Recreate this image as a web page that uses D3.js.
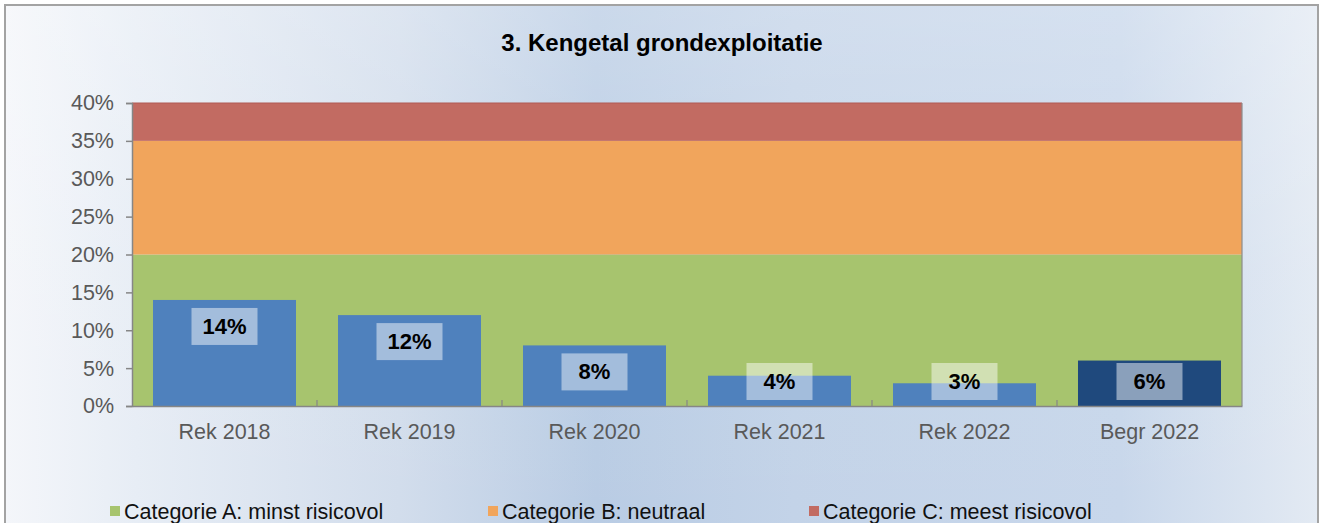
<!DOCTYPE html>
<html>
<head>
<meta charset="utf-8">
<script src="https://cdn.jsdelivr.net/npm/d3@7/dist/d3.min.js"></script>
<style>
  html, body { margin: 0; padding: 0; background: #ffffff; }
  svg { display: block; font-family: "Liberation Sans", Arial, sans-serif; }
</style>
</head>
<body>
<svg id="chart" width="1325" height="523"></svg>
<script>
// Kengetal grondexploitatie per jaar (in %)
const categories = ["Rek 2018", "Rek 2019", "Rek 2020", "Rek 2021", "Rek 2022", "Begr 2022"];
const values = [14, 12, 8, 4, 3, 6];
// Risk bands: bounds of each category
const bandNames = ["Categorie A: minst risicovol", "Categorie B: neutraal", "Categorie C: meest risicovol"];
const bandBounds = [0, 20, 35, 40];
const yTicks = [0, 5, 10, 15, 20, 25, 30, 35, 40];

const bandColors = ["#a7c46e", "#f1a55c", "#c26b62"];
const barColor = "#4f81bd";
const budgetColor = "#1f497d";

const svg = d3.select("#chart");
const defs = svg.append("defs");

// Panel background: soft blue gradient
const g1 = defs.append("linearGradient").attr("id", "bgH").attr("x1", "0").attr("x2", "1").attr("y1", "0").attr("y2", "0");
[["0%", "#f4f6fa"], ["10%", "#e7edf5"], ["30%", "#d2ddec"], ["45%", "#b9cce4"], ["60%", "#c3d3e8"],
 ["85%", "#c8d7eb"], ["100%", "#e3eaf3"]].forEach(s =>
  g1.append("stop").attr("offset", s[0]).attr("stop-color", s[1]));
const g2 = defs.append("linearGradient").attr("id", "bgV").attr("x1", "0").attr("x2", "0").attr("y1", "0").attr("y2", "1");
g2.append("stop").attr("offset", "0%").attr("stop-color", "#ffffff").attr("stop-opacity", 0.25);
g2.append("stop").attr("offset", "50%").attr("stop-color", "#ffffff").attr("stop-opacity", 0.05);
g2.append("stop").attr("offset", "100%").attr("stop-color", "#ffffff").attr("stop-opacity", 0.0);

svg.append("rect").attr("x", 5).attr("y", 5).attr("width", 1313).attr("height", 530)
  .attr("fill", "url(#bgH)");
svg.append("rect").attr("x", 5).attr("y", 5).attr("width", 1313).attr("height", 530)
  .attr("fill", "url(#bgV)");
svg.append("rect").attr("x", 5).attr("y", 5).attr("width", 1313).attr("height", 530)
  .attr("fill", "none").attr("stroke", "#a3a3a3").attr("stroke-width", 2);

// Title
svg.append("text").attr("x", 662).attr("y", 51).attr("text-anchor", "middle")
  .attr("font-size", 24).attr("font-weight", "bold").attr("fill", "#000")
  .text("3. Kengetal grondexploitatie");

const plot = { left: 132, right: 1242, top: 103, bottom: 406 };

const x = d3.scaleBand().domain(categories).range([plot.left, plot.right]).paddingInner(0.227).paddingOuter(0.1135);
const xOuter = d3.scaleBand().domain(categories).range([plot.left, plot.right]).padding(0);
const y = d3.scaleLinear().domain([0, 40]).range([plot.bottom, plot.top]);

// Risk bands across the full plot width
const bands = bandNames.map((n, i) => ({ name: n, lo: bandBounds[i], hi: bandBounds[i + 1], color: bandColors[i] }));
svg.append("g").selectAll("rect").data(bands).join("rect")
  .attr("x", plot.left).attr("width", plot.right - plot.left)
  .attr("y", d => y(d.hi)).attr("height", d => y(d.lo) - y(d.hi))
  .attr("fill", d => d.color);
svg.append("line").attr("x1", plot.left).attr("x2", plot.right).attr("y1", y(40)).attr("y2", y(40))
  .attr("stroke", "#b05a55").attr("stroke-width", 1.2);
svg.append("line").attr("x1", plot.right).attr("x2", plot.right).attr("y1", y(40)).attr("y2", y(0))
  .attr("stroke", "#8c8c8c").attr("stroke-width", 1.2);

// Bars
svg.append("g").selectAll("rect").data(categories).join("rect")
  .attr("x", d => x(d)).attr("width", x.bandwidth())
  .attr("y", (d, i) => y(values[i])).attr("height", (d, i) => y(0) - y(values[i]))
  .attr("fill", (d, i) => i === categories.length - 1 ? budgetColor : barColor);

// Value labels with translucent boxes
const fmt = v => d3.format(".0f")(v) + "%";
const labels = svg.append("g").selectAll("g").data(categories).join("g")
  .attr("transform", (d, i) => `translate(${x(d) + x.bandwidth() / 2},${Math.min(y(values[i]) + 26, y(0) - 25)})`);
labels.append("rect").attr("x", -33).attr("y", -18).attr("width", 66).attr("height", 37)
  .attr("fill", "#ffffff").attr("fill-opacity", 0.48);
labels.append("text").attr("text-anchor", "middle").attr("dy", "0.36em")
  .attr("font-size", 22).attr("font-weight", "bold").attr("fill", "#000")
  .text((d, i) => fmt(values[i]));

// Y axis
const yAxis = d3.axisLeft(y).tickValues(yTicks).tickSize(6).tickPadding(12).tickFormat(d => d + "%");
const ya = svg.append("g").attr("transform", `translate(${plot.left},0)`).call(yAxis);
ya.select(".domain").attr("stroke", "#868686").attr("stroke-width", 1.5);
ya.selectAll(".tick line").attr("stroke", "#868686").attr("stroke-width", 1.5);
ya.selectAll(".tick text").attr("font-size", 21.5).attr("fill", "#595959").attr("font-family", "Liberation Sans, Arial, sans-serif");

// X axis
const xAxis = d3.axisBottom(x).tickSize(0).tickPadding(18);
const xa = svg.append("g").attr("transform", `translate(0,${plot.bottom})`).call(xAxis);
xa.select(".domain").attr("stroke", "#868686").attr("stroke-width", 1.5);
xa.selectAll(".tick text").attr("font-size", 21.5).attr("fill", "#595959").attr("font-family", "Liberation Sans, Arial, sans-serif");
// category separators (inside tick marks)
svg.append("g").selectAll("line").data(categories.slice(1)).join("line")
  .attr("x1", d => xOuter(d)).attr("x2", d => xOuter(d))
  .attr("y1", plot.bottom - 6).attr("y2", plot.bottom)
  .attr("stroke", "#868686").attr("stroke-width", 1.2);

// Legend
const legendX = [110, 488, 809];
const lg = svg.append("g").selectAll("g").data(bands).join("g")
  .attr("transform", (d, i) => `translate(${legendX[i]},511)`);
lg.append("rect").attr("x", 0).attr("y", -5).attr("width", 10).attr("height", 10).attr("fill", d => d.color);
lg.append("text").attr("x", 14).attr("y", 0).attr("dy", "0.36em")
  .attr("font-size", 21.5).attr("fill", "#111").text(d => d.name);
</script>
</body>
</html>
